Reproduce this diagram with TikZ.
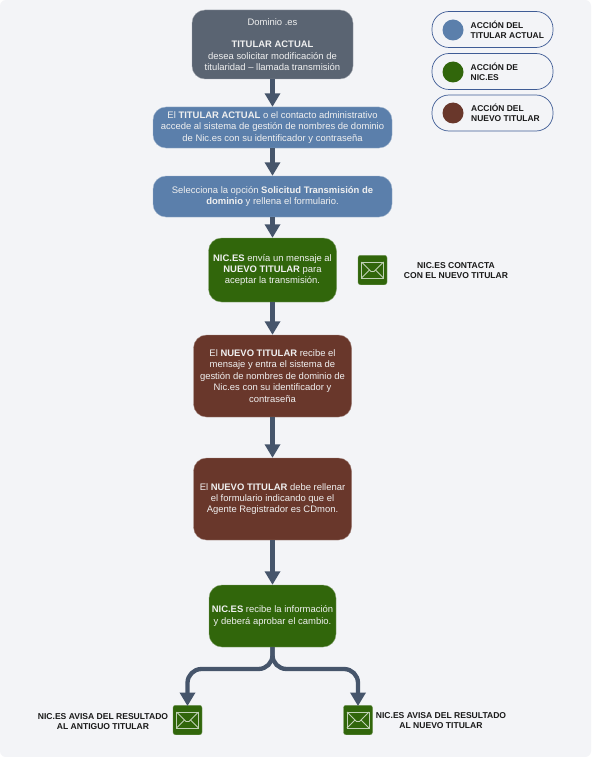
\documentclass[tikz,border=0pt]{standalone}
\usepackage{fontspec}
\setmainfont{Liberation Sans}
\usetikzlibrary{arrows.meta}
\definecolor{bgc}{HTML}{F3F4F7}
\definecolor{greyb}{HTML}{5A6472}
\definecolor{blueb}{HTML}{5B7FAB}
\definecolor{greenb}{HTML}{31660B}
\definecolor{redb}{HTML}{69372B}
\definecolor{arrowc}{HTML}{46556B}
\definecolor{legendline}{HTML}{3F5C95}
\definecolor{txtc}{HTML}{F0F0F0}
\tikzset{
  x=1pt,y=-1pt,
  flowbox/.style={rounded corners=13pt,align=center,text=txtc,font=\fontsize{9.45}{11.4}\selectfont,inner sep=0pt,anchor=center,draw=white!40!#1,line width=.4pt,fill=#1},
  flow/.style={draw=arrowc,line width=4.3pt,-{Triangle[width=15pt,length=13.5pt]}},
  branch/.style={flow,rounded corners=14pt},
  legendbox/.style={draw=legendline,line width=.7pt,fill=none,rounded corners=17pt,minimum width=121pt,minimum height=36pt,anchor=center,inner sep=0pt},
  legenddot/.style={circle,minimum size=21pt,inner sep=0pt,anchor=center},
  legendtext/.style={anchor=west,align=left,inner sep=0pt,text=black!90,font=\bfseries\fontsize{8.45}{10.2}\selectfont},
  note/.style={align=center,inner sep=0pt,text=black!90,font=\bfseries\fontsize{8.55}{10}\selectfont},
  envbox/.style={fill=greenb,draw=white!30!greenb,line width=.4pt,rounded corners=2.5pt,minimum width=29pt,minimum height=29.5pt,inner sep=0pt,anchor=center},
  envline/.style={draw=white!70!greenb,line width=.8pt}
}
\newcommand{\envelope}[1]{%
  \draw[envline] ([shift={(-11,-8)}]#1.center) rectangle ([shift={(11,8)}]#1.center);
  \draw[envline] ([shift={(-11,-8)}]#1.center) -- ([shift={(-1.5,1.5)}]#1.center) -- ([shift={(1.5,1.5)}]#1.center) -- ([shift={(11,-8)}]#1.center);
  \draw[envline] ([shift={(-11,8)}]#1.center) -- ([shift={(-3,0)}]#1.center);
  \draw[envline] ([shift={(11,8)}]#1.center) -- ([shift={(3,0)}]#1.center);
}
\begin{document}
\begin{tikzpicture}
\useasboundingbox (0,0) rectangle (592,757);
\fill[white] (0,0) rectangle (592,757);
\fill[bgc,rounded corners=6pt] (0,0) rectangle (591,757);
% flow boxes
\node[flowbox=greyb,minimum width=161pt,minimum height=69pt] (b1) at (272.5,44.5)
  {Dominio .es\\[11.4pt]\textbf{TITULAR ACTUAL}\\desea solicitar modificación de\\titularidad – llamada transmisión};
\node[flowbox=blueb,minimum width=239pt,minimum height=41pt] (b2) at (272.5,127.5)
  {El \textbf{TITULAR ACTUAL} o el contacto administrativo\\accede al sistema de gestión de nombres de dominio\\de Nic.es con su identificador y contraseña};
\node[flowbox=blueb,minimum width=239pt,minimum height=41pt] (b3) at (272.5,196.5)
  {Selecciona la opción \textbf{Solicitud Transmisión de}\\\textbf{dominio} y rellena el formulario.};
\node[flowbox=greenb,minimum width=128pt,minimum height=64pt] (b4) at (272.5,270)
  {\textbf{NIC.ES} envía un mensaje al\\\textbf{NUEVO TITULAR} para\\aceptar la transmisión.};
\node[flowbox=redb,minimum width=158pt,minimum height=82pt] (b5) at (272.5,376)
  {El \textbf{NUEVO TITULAR} recibe el\\mensaje y entra el sistema de\\gestión de nombres de dominio de\\Nic.es con su identificador y\\contraseña};
\node[flowbox=redb,minimum width=158pt,minimum height=82pt] (b6) at (272.5,499)
  {El \textbf{NUEVO TITULAR} debe rellenar\\el formulario indicando que el\\Agente Registrador es CDmon.};
\node[flowbox=greenb,minimum width=127pt,minimum height=62pt] (b7) at (272.5,616)
  {\textbf{NIC.ES} recibe la información\\y deberá aprobar el cambio.};
% envelopes
\node[envbox] (e1) at (372.5,270) {};
\envelope{e1}
\node[envbox] (e2) at (187.5,720) {};
\envelope{e2}
\node[envbox] (e3) at (358,720) {};
\envelope{e3}
% connectors
\draw[flow] (b1) -- (b2);
\draw[flow] (b2) -- (b3);
\draw[flow] (b3) -- (b4);
\draw[flow] (b4) -- (b5);
\draw[flow] (b5) -- (b6);
\draw[flow] (b6) -- (b7);
\coordinate (jl) at (e2.north |- 0,669);
\coordinate (jr) at (e3.north |- 0,669);
\coordinate (jm) at (b7.south |- 0,669);
\draw[branch] (b7.south) -- (jm) -- (jl) -- ([yshift=-1pt]e2.north);
\draw[branch] (b7.south) -- (jm) -- (jr) -- ([yshift=-1pt]e3.north);
% notes
\node[note] (n1) at (456,270.5) {NIC.ES CONTACTA\\CON EL NUEVO TITULAR};
\node[note] (n2) at (103,721.5) {NIC.ES AVISA DEL RESULTADO\\AL ANTIGUO TITULAR};
\node[note] (n3) at (441,720.5) {NIC.ES AVISA DEL RESULTADO\\AL NUEVO TITULAR};
% legend
\node[legendbox] (l1) at (492.5,29.5) {};
\node[legendbox] (l2) at (492.5,71.5) {};
\node[legendbox] (l3) at (492.5,113) {};
\node[legenddot,fill=blueb] (d1) at (453,30) {};
\node[legenddot,fill=greenb] (d2) at (453,72) {};
\node[legenddot,fill=redb] (d3) at (453,113) {};
\node[legendtext] (t1) at (470.5,29.5) {ACCIÓN DEL\\TITULAR ACTUAL};
\node[legendtext] (t2) at (470.5,71.5) {ACCIÓN DE\\NIC.ES};
\node[legendtext] (t3) at (471,112.5) {ACCIÓN DEL\\NUEVO TITULAR};
\end{tikzpicture}
\end{document}
